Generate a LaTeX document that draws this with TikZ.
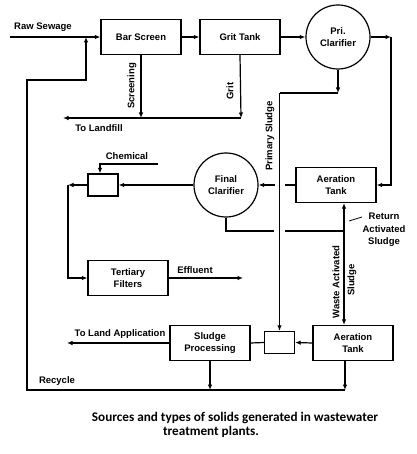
\documentclass[tikz,border=0pt]{standalone}
\usepackage{fontspec}
\setmainfont{Liberation Sans}
\newfontfamily\capfont{Carlito}
\usetikzlibrary{shapes,arrows.meta,positioning,calc}

\tikzset{
  unit/.style={rectangle,draw,line width=1.2pt,minimum width=80pt,minimum height=35pt,align=center,inner sep=1pt},
  tank/.style={circle,draw,line width=1.2pt,minimum size=64pt,align=center,inner sep=1pt},
  mixer/.style={rectangle,draw,line width=1.2pt,minimum width=30pt,minimum height=22pt},
  side/.style={rotate=90},
  flow/.style={line width=1.2pt,-{Latex[length=5.5pt,width=4.5pt]}},
  pipe/.style={line width=1.2pt},
  caption/.style={font=\capfont\bfseries\fontsize{13.2}{15}\selectfont},
}

\begin{document}
\begin{tikzpicture}[x=1pt,y=-1pt,font=\bfseries\fontsize{9.5}{12.5}\selectfont]
    \useasboundingbox (0,0) rectangle (416,454);

    % 处理单元
    \node[unit] (bar) at (141,37) {Bar Screen};
    \node[unit] (grit) at (240,37) {Grit Tank};
    \node[tank] (pri) at (338,37) {Pri.\\Clarifier};
    \node[unit] (aer1) at (336,185) {Aeration\\Tank};
    \node[tank] (fin) at (226,185) {Final\\Clarifier};
    \node[mixer] (mixA) at (103,185) {};
    \node[unit] (tert) at (128,278) {Tertiary\\Filters};
    \node[unit] (sproc) at (210,343) {Sludge\\Processing};
    \node[mixer] (mixB) at (279.5,342.5) {};
    \node[unit] (aer2) at (353,343) {Aeration\\Tank};

    % 折点
    \coordinate (raw) at (10,37);
    \coordinate (pe) at (391,37);
    \coordinate (ps1) at (338,93);
    \coordinate (ps2) at (279.5,93);
    \coordinate (lfR) at (241,118);
    \coordinate (lfL) at (63,118);
    \coordinate (g1) at (284.5,185);
    \coordinate (g2) at (274.5,185);
    \coordinate (g3) at (285,231);
    \coordinate (g4) at (274,231);
    \coordinate (ras) at (344,231);
    \coordinate (leadA) at (349,221);
    \coordinate (leadB) at (362,217);
    \coordinate (chem) at (158,164);
    \coordinate (cw) at (68,185);
    \coordinate (eff) at (243,278);
    \coordinate (land) at (67,343);
    \coordinate (rc) at (345,390);
    \coordinate (r1) at (27,390);
    \coordinate (r2) at (27,80);
    \coordinate (r3) at (86,80);
    \coordinate (r4) at (86,37);

    % 连线
    \draw[flow] (raw) -- (bar.west);
    \draw[flow] (bar.east) -- (grit.west);
    \draw[flow] (grit.east) -- (pri.west);
    \draw[flow] (pri.east) -- (pe);
    \draw[flow] (pe) |- (aer1.east);
    \draw[flow] (bar.south) -- (bar.south |- lfL);
    \draw[flow] (grit.south) -- (lfR);
    \draw[flow] (lfR) -- (lfL);
    \draw[flow] (pri.south) -- (ps1);
    \draw[pipe] (ps1) -- (ps2);
    \draw[flow] (ps2) -- (mixB.north);
    \draw[pipe] (aer1.west) -- (g1);
    \draw[flow] (g2) -- (fin.east);
    \draw[pipe] (fin.south) |- (g4);
    \draw[pipe] (g3) -- (ras);
    \draw[flow] (ras) -- (ras |- aer1.south);
    \draw[flow] (ras) -- (ras |- aer2.north);
    \draw[line width=0.8pt] (leadA) -- (leadB);
    \draw[flow] (chem) -| ([xshift=-3pt]mixA.north);
    \draw[flow] (fin.west) -- (mixA.east);
    \draw[flow] (mixA.west) -- (cw);
    \draw[flow] (cw) |- (tert.west);
    \draw[flow] (tert.east) -- (eff);
    \draw[flow] (aer2.west) -- (mixB.east);
    \draw[pipe] (mixB.west) -- (sproc.east);
    \draw[flow] (sproc.west) -- (land);
    \draw[flow] (sproc.south) -- (sproc.south |- rc);
    \draw[flow] (aer2.south -| rc) -- (rc);
    \draw[flow] (rc) -- (r1) -- (r2) -- (r3) -- (r4);

    % 标注
    \node (lraw) at (43,27) {Raw Sewage};
    \node[side] (lscr) at (132,86) {Screening};
    \node[side] (lgrit) at (230,91) {Grit};
    \node (llf) at (99,128) {To Landfill};
    \node[side] (lps) at (270,136) {Primary Sludge};
    \node (lchem) at (127,156) {Chemical};
    \node (leff) at (195,270) {Effluent};
    \node[align=center] (lras) at (384,230) {Return\\Activated\\Sludge};
    \node[side] (lwas1) at (336,282) {Waste Activated};
    \node[side] (lwas2) at (352,280) {Sludge};
    \node (lland) at (120,334) {To Land Application};
    \node (lrec) at (57,381) {Recycle};

    % 图题
    \node[caption] (cap1) at (235,418) {Sources and types of solids generated in wastewater};
    \node[caption] (cap2) at (211,432) {treatment plants.};
\end{tikzpicture}
\end{document}
